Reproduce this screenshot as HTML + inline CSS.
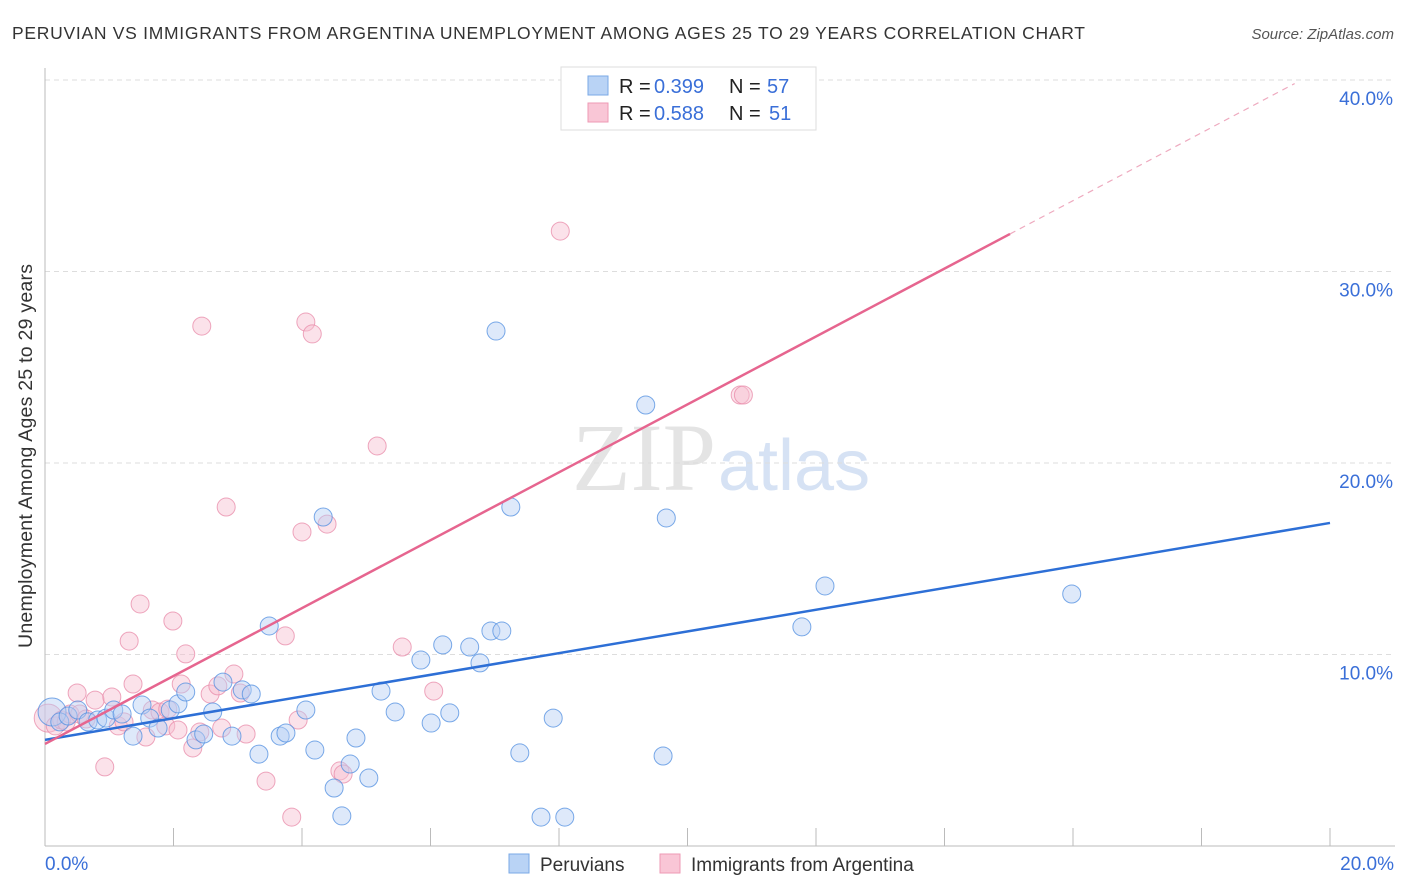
<!DOCTYPE html>
<html><head><meta charset="utf-8"><style>
body{margin:0;background:#fff;font-family:"Liberation Sans",sans-serif;}
#wrap{position:relative;width:1406px;height:892px;overflow:hidden;}
</style></head><body>
<div id="wrap">
<svg id="svg" width="1406" height="892">
<text x="12" y="39" font-size="17.5" fill="#333" textLength="1073" lengthAdjust="spacing">PERUVIAN VS IMMIGRANTS FROM ARGENTINA UNEMPLOYMENT AMONG AGES 25 TO 29 YEARS CORRELATION CHART</text>
<text x="1394" y="39" font-size="15" fill="#555" font-style="italic" text-anchor="end">Source: ZipAtlas.com</text>
<text x="716" y="490" font-size="96" fill="#e4e4e4" text-anchor="end" font-family="Liberation Serif,serif">ZIP</text>
<text x="718" y="490" font-size="72" fill="#d6e2f4">atlas</text>
<text x="32" y="456" font-size="19.5" fill="#333" textLength="384" lengthAdjust="spacing" text-anchor="middle" transform="rotate(-90 32 456)">Unemployment Among Ages 25 to 29 years</text>
<g id="grid"></g><g id="axes"></g><g id="pts"></g><g id="lines"></g>
<g>
<rect x="561" y="67" width="255" height="63" fill="#fff" stroke="#ddd"/>
<rect x="588" y="76" width="20" height="19" fill="#b9d3f5" stroke="#7aa8e6"/>
<rect x="588" y="103" width="20" height="19" fill="#f9c6d6" stroke="#ee9ab4"/>
<text y="93" font-size="20"><tspan x="619" fill="#222">R = </tspan><tspan x="654" fill="#3a6fd8">0.399</tspan><tspan x="729" fill="#222">N = </tspan><tspan x="767" fill="#3a6fd8">57</tspan></text>
<text y="120" font-size="20"><tspan x="619" fill="#222">R = </tspan><tspan x="654" fill="#3a6fd8">0.588</tspan><tspan x="729" fill="#222">N = </tspan><tspan x="769" fill="#3a6fd8">51</tspan></text>
</g>
<g>
<rect x="509" y="854" width="20" height="19" fill="#b9d3f5" stroke="#7aa8e6"/>
<text x="540" y="871" font-size="19" fill="#333">Peruvians</text>
<rect x="660" y="854" width="20" height="19" fill="#f9c6d6" stroke="#ee9ab4"/>
<text x="691" y="871" font-size="19" fill="#333">Immigrants from Argentina</text>
</g>
</svg></div>
<script>
const xTicks=[0,20];
const yTicks=[10,20,30,40];
const blueX=[0.11,0.23,0.36,0.51,0.67,0.82,0.95,1.07,1.20,1.37,1.51,1.63,1.76,1.95,2.07,2.19,2.35,2.47,2.61,2.77,2.91,3.07,3.21,3.33,3.49,3.66,3.75,4.06,4.20,4.33,4.50,4.62,4.75,4.84,5.04,5.23,5.45,5.85,6.01,6.19,6.30,6.61,6.77,6.94,7.11,7.02,7.25,7.39,7.72,7.91,8.09,9.35,9.62,9.67,11.78,12.14,15.98];
const blueY=[7.00,6.48,6.79,7.10,6.48,6.58,6.68,7.10,6.89,5.74,7.36,6.68,6.16,7.10,7.42,8.04,5.54,5.85,7.00,8.56,5.74,8.15,7.94,4.80,11.49,5.74,5.90,7.10,5.01,17.18,3.03,1.57,4.28,5.64,3.55,8.09,7.00,9.71,6.42,10.50,6.95,10.39,9.56,11.23,11.23,26.89,17.70,4.86,1.51,6.68,1.51,23.03,4.70,17.13,11.44,13.58,13.16];
const pinkX=[0.05,0.16,0.26,0.33,0.39,0.50,0.54,0.64,0.78,0.93,1.04,1.14,1.23,1.31,1.37,1.48,1.57,1.67,1.79,1.88,1.91,1.99,2.07,2.12,2.19,2.30,2.41,2.44,2.57,2.69,2.75,2.82,2.94,3.04,3.13,3.44,3.74,3.84,3.94,4.00,4.06,4.16,4.39,4.59,4.64,5.17,5.56,6.05,8.02,10.82,10.87];
const pinkY=[6.68,6.27,6.58,6.48,6.89,7.99,6.89,6.63,7.62,4.13,7.78,6.27,6.48,10.70,8.46,12.64,5.69,7.10,7.00,6.27,7.15,11.75,6.06,8.46,10.03,5.12,5.95,27.15,7.94,8.36,6.16,17.70,8.98,7.99,5.85,3.39,10.97,1.51,6.58,16.40,27.36,26.74,16.81,3.92,3.76,20.89,10.39,8.09,32.11,23.55,23.55];
const blueFit=[5.54,0.5665];
const pinkFit=[5.33,1.773];
const NS='http://www.w3.org/2000/svg';
const X=v=>45+v*64.25, Y=v=>846-v*19.15;
function mk(tag,attrs,parent){const e=document.createElementNS(NS,tag);for(const k in attrs)e.setAttribute(k,attrs[k]);document.getElementById(parent).appendChild(e);return e;}
yTicks.forEach(t=>{
 let g=mk('line',{x1:45,x2:1395,y1:Y(t),y2:Y(t),stroke:'#ddd','stroke-dasharray':'5,4'},'grid');
 
 
 let l=mk('text',{x:1393,y:Y(t)+25,'font-size':19,fill:'#3a6fd8','text-anchor':'end'},'grid');l.textContent=t.toFixed(1)+'%';
 
 
});
let ax=mk('line',{x1:45,x2:45,y1:68,y2:846,stroke:'#bbb'},'axes');


let bx=mk('line',{x1:45,x2:1395,y1:846,y2:846,stroke:'#bbb'},'axes');


for(let v=2;v<=20;v+=2){let t=mk('line',{x1:X(v),x2:X(v),y1:828,y2:846,stroke:'#bbb'},'axes');
 
 }
xTicks.forEach((t,i)=>{let l=mk('text',{x:i?1394:45,y:870,'font-size':19,fill:'#3a6fd8','text-anchor':i?'end':'start'},'axes');l.textContent=t.toFixed(1)+'%';
 
 });
function pts(xs,ys,fill,stroke,name){xs.forEach((x,i)=>{let c=mk('circle',{cx:X(x),cy:Y(ys[i]),r:i===0?14:9,fill:fill,'fill-opacity':0.45,stroke:stroke,'stroke-opacity':0.75,'stroke-width':1},'pts');
 
 });}
pts(pinkX,pinkY,'#f7bfd0','#e889a8','argentina-point');
pts(blueX,blueY,'#b5cff3','#4f8de0','peruvian-point');
let bl=mk('line',{x1:X(0),y1:Y(blueFit[0]),x2:X(20),y2:Y(blueFit[0]+20*blueFit[1]),stroke:'#2d6fd6','stroke-width':2.5},'lines');


let pl=mk('line',{x1:X(0),y1:Y(pinkFit[0]),x2:X(15.02),y2:Y(pinkFit[0]+15.02*pinkFit[1]),stroke:'#e6658f','stroke-width':2.5},'lines');


let pd=mk('line',{x1:X(15.02),y1:Y(pinkFit[0]+15.02*pinkFit[1]),x2:X(19.45),y2:Y(pinkFit[0]+19.45*pinkFit[1]),stroke:'#eeaabf','stroke-width':1.2,'stroke-dasharray':'6,5'},'lines');


</script>
</body></html>
